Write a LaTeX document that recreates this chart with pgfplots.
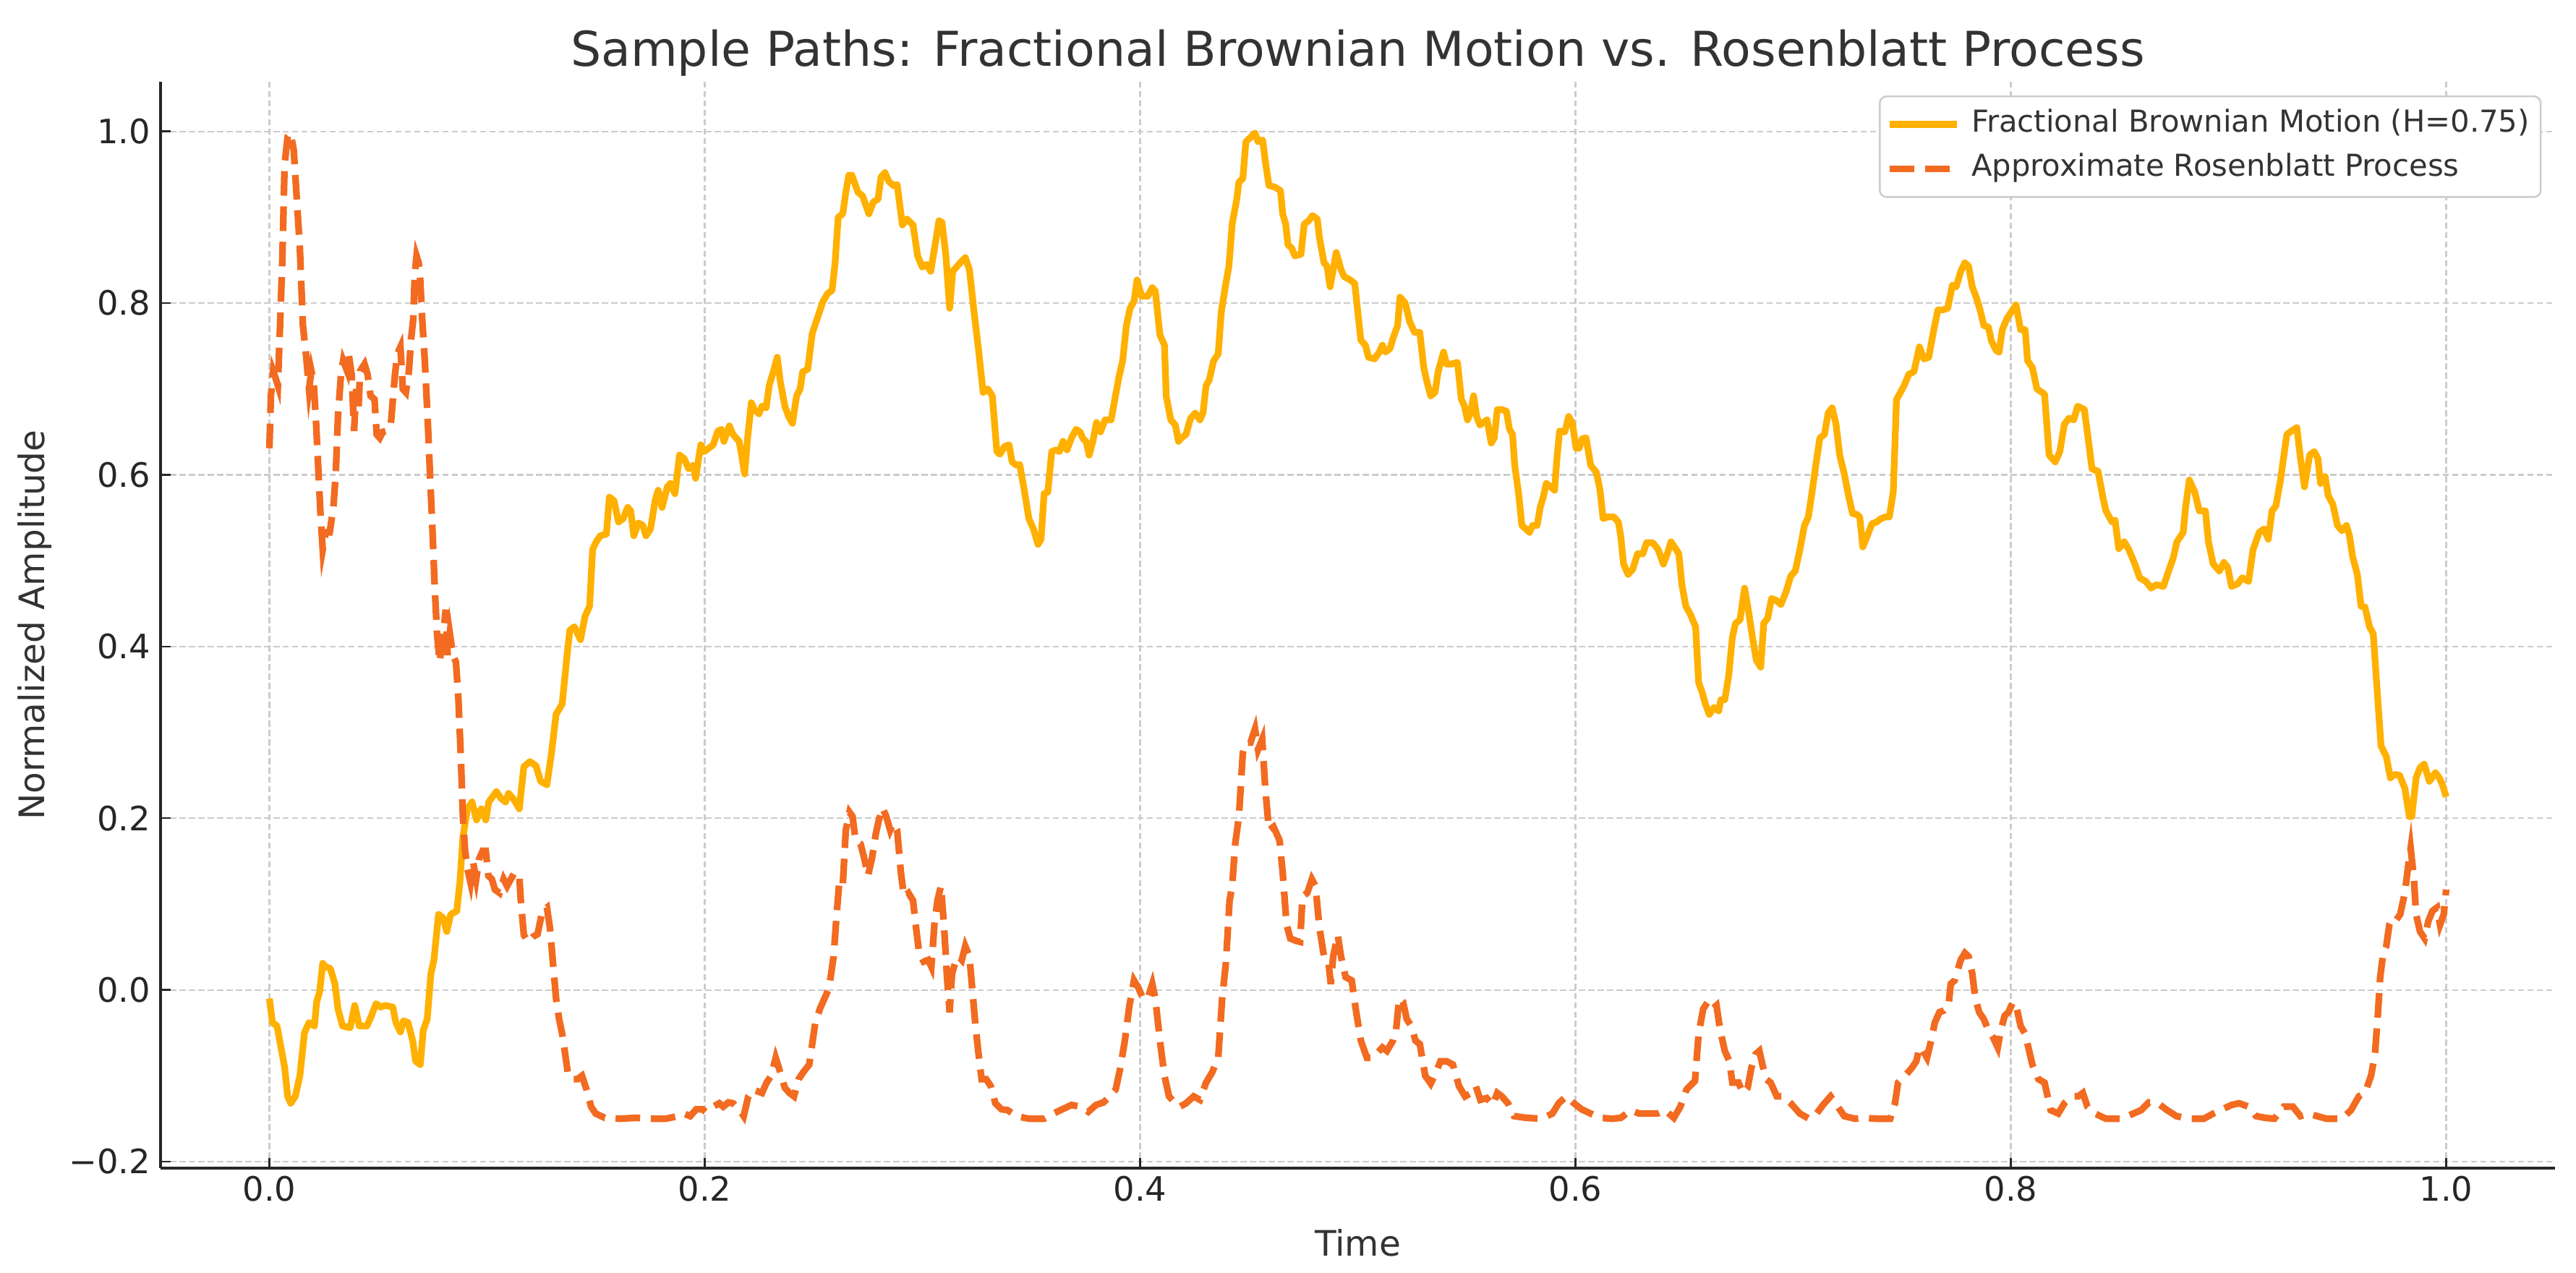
\documentclass[border=0pt]{standalone}
\usepackage{pgfplots}
\pgfplotsset{compat=1.18}
\usepackage{fontspec}
\setmainfont{DejaVu Sans}
\definecolor{fbm}{HTML}{FFB000}
\definecolor{ros}{HTML}{F26B21}
\definecolor{txt}{HTML}{333333}
\definecolor{axc}{HTML}{262626}
\definecolor{gridc}{HTML}{CCCCCC}

\begin{document}
\begin{tikzpicture}
\path[use as bounding box] (-71.8pt,-46.9pt) rectangle (1080.2pt,522.3pt);
\begin{axis}[
  name=ax, at={(0,0)}, anchor=south west,
  scale only axis, width=1070.8pt, height=485.6pt,
  xmin=-0.05, xmax=1.05, ymin=-0.2075, ymax=1.0575,
  axis x line*=bottom, axis y line*=left,
  axis line style={axc, line width=1.3pt, -},
  x axis line style={-}, y axis line style={-},
  tick align=inside, major tick length=4.5pt,
  tick style={axc, line width=0.8pt},
  xtick={0,0.2,0.4,0.6,0.8,1.0},
  xticklabels={0.0,0.2,0.4,0.6,0.8,1.0},
  ytick={-0.2,0,0.2,0.4,0.6,0.8,1.0},
  yticklabels={−0.2,0.0,0.2,0.4,0.6,0.8,1.0},
  ticklabel style={font=\fontsize{15}{17}\selectfont, text=axc},
  yticklabel style={xshift=-1pt},
  grid=major,
  major grid style={gridc, line width=0.7pt, dash pattern=on 2.8pt off 1.4pt},
  legend cell align=left,
  legend image code/.code={\draw[#1] (0pt,0pt) -- (30pt,0pt);},
  legend style={at={(1,1)}, anchor=north east, xshift=-6pt, yshift=-6pt,
    draw=gridc, line width=0.8pt, rounded corners=3pt, fill=white,
    font=\fontsize{13.5}{15}\selectfont, text=txt,
    inner xsep=3pt, inner ysep=5pt, row sep=5pt,
    nodes={inner xsep=2pt, inner ysep=1pt, text height=9.8pt, text depth=3.2pt},
    /tikz/every odd column/.append style={column sep=3pt}},
]
% fractional Brownian motion path
\addplot[fbm, line width=3pt, line join=round] coordinates {
(0,-0.01)(.0014,-.038)(.0035,-.042)(.007,-.09)(.0084,-.124)(.0098,-.132)(.0119,-.124)(.014,-.1)(.0161,-.05)(.0182,-.038)
(.0207,-.042)(.0217,-.014)(.0231,-.002)(.0245,.031)(.0259,.027)(.028,.025)(.0301,.007)(.0315,-.022)(.0336,-.042)(.0371,-.044)
(.0392,-.018)(.0413,-.042)(.0448,-.042)(.0469,-.03)(.049,-.016)(.0511,-.02)(.0532,-.018)(.0567,-.02)(.0581,-.038)(.0602,-.049)
(.0616,-.036)(.0637,-.038)(.0658,-.059)(.0672,-.083)(.0693,-.087)(.0707,-.047)(.0725,-.034)(.0742,.019)(.0756,.035)(.0777,.088)
(.0798,.084)(.0815,.068)(.0833,.088)(.0861,.092)(.0875,.125)(.0889,.178)(.091,.211)(.0931,.219)(.0952,.198)(.0973,.211)
(.0994,.198)(.1008,.219)(.1043,.231)(.1064,.223)(.1085,.219)(.1099,.229)(.112,.223)(.1148,.211)(.1169,.26)(.1197,.266)
(.1225,.261)(.1246,.243)(.1275,.239)(.1296,.276)(.1317,.321)(.1345,.333)(.1366,.386)(.138,.419)(.1401,.423)(.1429,.408)
(.145,.435)(.1471,.447)(.1485,.513)(.1499,.521)(.152,.529)(.1548,.531)(.1562,.574)(.1583,.57)(.1604,.545)(.1625,.549)
(.1646,.562)(.166,.558)(.1674,.529)(.1695,.544)(.1716,.541)(.173,.529)(.1751,.537)(.1772,.57)(.1786,.582)(.1804,.562)
(.1828,.586)(.1842,.59)(.1863,.578)(.1884,.623)(.1905,.619)(.1926,.607)(.1947,.611)(.1958,.596)(.1982,.635)
(.1997,.627)(.2018,.631)(.2039,.635)(.206,.651)(.2077,.653)(.2088,.639)(.2113,.657)(.213,.647)(.2158,.639)(.2172,.619)
(.2183,.601)(.2197,.643)(.2214,.684)(.2228,.676)(.2249,.671)(.2263,.68)(.2282,.678)(.2296,.704)(.2315,.72)(.2333,.737)
(.2347,.709)(.2368,.68)(.2385,.668)(.2403,.66)(.2422,.692)(.2438,.70)(.245,.72)(.2473,.723)(.2494,.765)(.2522,.786)
(.2543,.802)(.2564,.811)(.2585,.815)(.2599,.847)(.2613,.90)(.2634,.904)(.2648,.929)(.2662,.949)(.2676,.949)(.2704,.929)
(.2725,.925)(.2754,.904)(.2775,.918)(.2796,.921)(.281,.947)(.2828,.952)(.2845,.942)(.2866,.937)(.2884,.938)(.2908,.891)
(.2929,.898)(.2957,.891)(.2978,.855)(.2999,.842)(.302,.845)(.3038,.837)(.3055,.863)(.3076,.896)(.309,.894)(.3108,.855)
(.3125,.794)(.3139,.837)(.316,.843)(.3181,.849)(.3197,.853)(.3216,.839)(.3237,.79)(.3258,.745)(.3279,.696)(.33,.70)
(.3321,.692)(.3342,.627)(.3356,.624)(.3377,.633)(.3398,.635)(.3412,.615)(.3433,.611)(.3447,.612)(.3468,.582)(.3489,.549)
(.351,.537)(.3531,.519)(.3545,.525)(.3559,.578)(.3576,.58)(.3594,.627)(.3612,.629)(.3629,.627)(.3646,.639)(.3664,.629)
(.3685,.643)(.3706,.653)(.3724,.65)(.3738,.642)(.3752,.639)(.3766,.623)(.3783,.639)(.38,.661)(.3818,.65)(.3839,.664)
(.3867,.664)(.3881,.684)(.3902,.713)(.392,.733)(.3937,.774)(.3954,.794)(.3972,.802)(.3986,.827)(.4007,.808)(.4035,.808)
(.4056,.818)(.407,.814)(.4091,.763)(.4112,.751)
(.412,.692)(.4141,.664)(.4162,.658)(.4176,.639)(.419,.643)(.4211,.647)(.4232,.666)(.4254,.672)(.4275,.664)(.4289,.672)
(.4303,.704)(.4317,.71)(.4338,.733)(.4359,.741)(.4373,.79)(.4394,.823)(.4408,.843)(.4423,.892)(.4444,.921)(.4454,.941)
(.4472,.945)(.4486,.988)(.4507,.993)(.4528,.998)(.4542,.988)(.4563,.99)(.4577,.962)(.4592,.937)(.462,.935)(.4645,.931)
(.4655,.904)(.4669,.892)(.4679,.868)(.4697,.864)(.4711,.855)(.4739,.857)(.4754,.892)(.4775,.896)(.4792,.902)(.4814,.898)
(.4824,.876)(.4845,.847)(.4859,.843)(.4873,.819)(.4887,.839)(.4901,.859)(.4923,.839)(.4937,.831)(.4965,.827)(.4986,.823)
(.5,.79)(.5014,.757)(.5035,.751)(.5049,.737)(.5077,.735)(.5099,.743)(.5113,.751)(.5127,.743)(.5148,.747)(.5162,.759)
(.5183,.774)(.5194,.807)(.5218,.80)(.5239,.778)(.5261,.766)(.5285,.766)(.5303,.725)(.5317,.709)(.5335,.692)(.5355,.696)
(.5369,.72)(.5394,.743)(.5408,.729)(.543,.729)(.5458,.731)(.5476,.688)(.549,.68)(.5504,.664)(.5518,.672)(.5532,.692)
(.5546,.668)(.5561,.658)(.5577,.661)(.5594,.664)(.5613,.637)(.5627,.643)(.5641,.676)(.5662,.676)(.5683,.674)(.5697,.653)
(.5711,.647)(.5721,.611)(.5739,.578)(.5754,.541)(.5772,.537)(.5789,.533)(.5803,.541)(.5824,.541)(.5838,.562)(.5852,.574)
(.5866,.59)(.5887,.586)(.5904,.582)(.5915,.619)(.5927,.651)(.5951,.65)(.5969,.668)(.5986,.66)(.6003,.631)(.6017,.631)
(.6031,.642)(.6049,.643)(.607,.611)(.6096,.603)(.6113,.582)(.6127,.549)(.6148,.551)(.6176,.551)(.6197,.545)(.6208,.529)
(.6221,.496)(.6242,.484)(.6263,.49)(.6285,.508)(.631,.508)(.6327,.521)(.6355,.521)(.638,.513)(.6404,.496)(.6422,.508)
(.6439,.522)(.646,.514)(.6475,.508)(.6489,.472)(.6507,.447)(.6527,.438)(.6552,.423)(.6566,.358)(.6583,.346)(.6597,.333)
(.6615,.321)(.6636,.329)(.6658,.325)(.6668,.338)(.6686,.338)(.6704,.366)(.6721,.411)(.6735,.427)(.6756,.431)(.6777,.468)
(.6794,.443)(.6813,.411)(.6831,.384)(.6851,.376)(.6865,.427)(.6883,.433)(.6901,.456)(.6921,.454)(.6944,.449)(.6968,.464)
(.6989,.482)(.701,.488)(.7031,.513)(.7052,.541)(.707,.551)(.7087,.58)(.7104,.611)(.7123,.643)(.7144,.647)(.7161,.672)
(.7179,.678)(.7197,.659)(.7214,.623)(.7235,.601)(.7256,.574)(.7273,.555)(.7291,.554)(.7306,.551)(.732,.516)(.7341,.529)
(.7362,.543)(.7383,.545)(.7404,.549)(.7425,.551)(.7442,.551)(.746,.58)(.7475,.688)(.7493,.696)(.751,.704)(.7531,.717)
(.7555,.72)(.758,.749)(.7601,.735)(.7623,.737)(.7644,.766)(.7665,.792)(.7686,.792)(.771,.794)(.7732,.821)(.7749,.819)
(.777,.837)(.7789,.847)(.7806,.843)(.7823,.819)(.7841,.807)(.7859,.792)(.7876,.774)(.7897,.772)(.7911,.756)(.7932,.745)
(.7946,.743)(.7961,.769)(.7982,.782)(.8003,.79)(.8024,.798)(.8045,.769)(.8066,.769)
(.8077,.733)(.8099,.725)(.812,.70)(.8155,.694)(.8176,.623)(.8204,.615)(.8225,.627)(.8246,.659)(.8268,.666)(.8289,.664)
(.8307,.68)(.8338,.676)(.8355,.643)(.8373,.607)(.8401,.604)(.8423,.574)(.8437,.558)(.8465,.545)(.8479,.547)(.8496,.514)
(.8521,.522)(.8542,.513)(.857,.496)(.8592,.48)(.862,.476)(.8645,.468)(.8669,.472)(.8701,.47)(.8725,.488)(.8746,.503)
(.8763,.522)(.8792,.533)(.8803,.562)(.882,.594)(.8845,.58)(.8866,.558)(.8894,.558)(.8908,.522)(.893,.496)(.8958,.488)
(.8979,.498)(.8997,.492)(.9014,.47)(.9042,.473)(.9063,.48)(.9092,.476)(.9113,.513)(.9141,.533)(.9163,.537)(.9183,.525)
(.92,.558)(.9218,.564)(.9239,.594)(.9268,.647)(.9289,.651)(.9314,.655)(.9331,.619)(.9349,.586)(.9373,.623)(.9394,.627)
(.9411,.619)(.9423,.59)(.9444,.598)(.9458,.576)(.9479,.566)(.9501,.541)(.9521,.535)(.9542,.541)(.9556,.529)(.957,.505)
(.9592,.484)(.9609,.447)(.9627,.446)(.9648,.423)(.9665,.415)(.9683,.349)(.9701,.284)(.9725,.272)(.9744,.247)(.9763,.251)
(.9786,.25)(.981,.235)(.9831,.202)(.9842,.202)(.9862,.247)(.988,.259)(.9899,.263)(.9923,.243)(.9951,.253)(.9969,.247)
(.9983,.239)(1.0,.225)
};
\addlegendentry{Fractional Brownian Motion (H=0.75)}
% approximate Rosenblatt path
\addplot[ros, line width=3pt, dash pattern=on 11pt off 4.8pt] coordinates {
(0,.631)(.0007,.692)(.0017,.721)(.0028,.713)(.0039,.704)(.0049,.774)(.0059,.847)(.007,.962)(.0084,.994)(.0098,.998)
(.0112,.978)(.0126,.921)(.014,.864)(.0154,.774)(.0168,.741)(.0182,.70)(.0193,.721)(.0203,.709)(.0213,.668)(.0224,.611)
(.0235,.553)(.0245,.513)(.0259,.533)(.0277,.533)(.0294,.562)(.0305,.602)(.0315,.668)(.0329,.717)(.0339,.733)(.0357,.721)
(.0364,.741)(.0378,.717)(.0389,.651)(.0399,.70)(.0409,.676)(.0417,.721)(.0437,.729)(.0451,.717)(.0465,.692)(.0483,.688)
(.0493,.647)(.0507,.643)(.0521,.65)(.0535,.651)(.0557,.656)(.0577,.717)(.0588,.741)(.0602,.749)(.0613,.70)(.0627,.696)
(.0641,.721)(.0651,.758)(.0661,.782)(.0668,.835)(.0676,.855)(.0686,.847)(.0693,.827)(.07,.79)(.0714,.733)(.0728,.66)
(.0739,.594)(.0749,.537)(.0759,.472)(.077,.415)(.0782,.382)(.0796,.407)(.081,.443)(.0819,.39)(.0829,.415)(.0843,.39)
(.0857,.382)(.0868,.341)(.088,.268)(.0889,.202)(.0899,.162)(.091,.141)(.0924,.125)(.0936,.149)(.095,.129)(.0964,.153)
(.098,.162)(.0994,.162)(.1006,.133)(.1022,.129)(.1036,.117)(.1057,.113)(.1076,.129)(.1092,.121)(.1109,.129)(.1127,.137)
(.1148,.133)(.1155,.104)(.1169,.064)(.1188,.056)(.1211,.062)(.1232,.065)(.1254,.092)(.1275,.096)(.1289,.072)(.1303,.031)
(.1317,-.01)(.1331,-.034)(.1345,-.051)(.1359,-.075)(.1373,-.1)(.1394,-.104)(.1415,-.104)(.1436,-.1)(.1457,-.116)(.1478,-.136)
(.1499,-.144)(.1541,-.149)(.1611,-.15)(.1681,-.149)(.1751,-.15)(.1821,-.15)(.1877,-.147)(.1905,-.144)(.1933,-.147)(.1961,-.139)
(.1989,-.139)
(.2004,-.142)(.2039,-.136)(.2067,-.132)(.2085,-.136)(.2109,-.131)(.213,-.132)(.2158,-.139)(.2179,-.147)(.22,-.124)(.2221,-.116)
(.2242,-.118)(.2263,-.12)(.2284,-.108)(.2305,-.1)(.2326,-.079)(.2347,-.096)(.2368,-.114)(.2389,-.12)(.241,-.124)(.2431,-.104)
(.2452,-.096)(.248,-.087)(.2508,-.038)(.2529,-.022)(.255,-.01)(.2571,.002)(.2592,.039)(.2606,.088)(.2618,.125)(.2634,.121)
(.2648,.186)(.2665,.207)(.2679,.202)(.2693,.174)(.2716,.17)(.2733,.153)(.275,.133)(.2768,.153)(.2786,.182)(.28,.198)
(.2817,.212)(.2834,.202)(.2852,.186)(.2866,.194)(.2884,.186)(.2901,.137)(.2915,.109)(.2936,.113)(.2957,.104)(.2971,.072)
(.2985,.043)(.3006,.033)(.3027,.035)(.3041,.027)(.3055,.076)(.3069,.104)(.3085,.121)(.3099,.076)(.3113,.015)(.3125,-.026)
(.3136,.019)(.315,.031)(.3167,.039)(.3181,.035)(.3197,.051)(.3216,.039)(.323,-.002)(.3244,-.042)(.3258,-.075)(.3272,-.104)
(.3293,-.104)(.3314,-.112)(.3335,-.132)(.3363,-.139)(.3391,-.14)(.3433,-.147)(.3489,-.15)(.3559,-.15)(.3601,-.144)(.3643,-.139)
(.3685,-.134)(.3727,-.136)(.3762,-.142)(.3797,-.134)(.3832,-.131)(.386,-.124)(.3888,-.116)(.3909,-.091)(.393,-.059)(.3951,-.018)
(.3972,.011)(.3993,.002)(.4013,-.01)(.4035,-.01)(.4056,.007)(.407,-.01)(.4091,-.059)(.4112,-.1)(.4133,-.124)
(.4162,-.132)(.4183,-.136)(.4211,-.132)(.4246,-.124)(.4275,-.128)(.4303,-.108)(.4331,-.096)(.4359,-.079)(.4377,-.01)(.4394,.031)
(.4411,.104)(.4423,.121)(.4437,.17)(.4454,.202)(.4472,.276)(.4486,.288)(.4507,.288)(.4528,.304)(.4542,.28)(.4561,.292)
(.4575,.235)(.4592,.186)(.4613,.19)(.4641,.174)(.4655,.137)(.4673,.076)(.469,.06)(.4718,.057)(.4735,.056)(.4746,.109)
(.4768,.113)(.4789,.129)(.4806,.121)(.4824,.072)(.4845,.039)(.4866,.031)(.4876,.007)(.4887,.039)(.4908,.064)(.4923,.039)
(.4944,.015)(.4972,.011)(.4993,-.026)(.5014,-.059)(.5042,-.079)(.507,-.079)(.5113,-.067)(.5134,-.071)(.5162,-.059)(.5176,-.047)
(.519,-.01)(.5208,-.014)(.5225,-.034)(.5246,-.042)(.5265,-.059)(.5285,-.063)(.531,-.1)(.5335,-.109)(.5352,-.1)(.538,-.083)
(.5408,-.083)(.5437,-.087)(.5465,-.112)(.5493,-.124)(.5521,-.12)(.5542,-.112)(.5563,-.128)(.5592,-.126)(.562,-.134)(.5641,-.12)
(.5662,-.124)(.569,-.132)(.5718,-.147)(.5775,-.149)(.5845,-.15)(.5894,-.144)(.5923,-.132)(.5958,-.124)(.5993,-.132)(.6028,-.139)
(.607,-.144)(.6113,-.149)(.6169,-.15)(.6208,-.149)
(.6256,-.14)(.6292,-.144)(.6327,-.144)(.6376,-.144)(.6411,-.14)(.6452,-.149)(.6482,-.136)(.651,-.116)(.6549,-.106)(.6566,-.051)
(.6587,-.022)(.6608,-.014)(.663,-.022)(.6648,-.018)(.6665,-.047)(.6686,-.071)(.6707,-.083)(.6721,-.108)(.6749,-.108)(.677,-.12)
(.6791,-.114)(.6808,-.091)(.6827,-.075)(.6845,-.071)(.6859,-.087)(.6876,-.104)(.6897,-.108)(.6925,-.124)(.6953,-.124)(.6989,-.132)
(.7031,-.144)(.7073,-.15)(.7108,-.144)(.7137,-.134)(.7172,-.124)(.72,-.134)(.7235,-.147)(.7284,-.15)(.7327,-.149)(.7383,-.15)
(.7446,-.15)(.7468,-.132)(.7482,-.108)(.751,-.101)(.7545,-.091)(.7566,-.083)(.758,-.067)(.7597,-.071)(.7615,-.079)(.7634,-.059)
(.7651,-.038)(.7672,-.026)(.7693,-.024)(.7714,-.018)(.7724,.007)(.7742,.011)(.7756,.023)(.777,.035)(.7789,.043)(.7806,.039)
(.7823,.019)(.7837,-.01)(.7855,-.026)(.7876,-.034)(.7897,-.047)(.7918,-.055)(.794,-.067)(.7954,-.047)(.7972,-.03)(.7989,-.026)
(.801,-.014)(.8028,-.022)(.8045,-.042)(.8066,-.051)
(.8099,-.087)(.8127,-.104)(.8155,-.108)(.8183,-.14)(.8218,-.144)(.8246,-.132)(.8282,-.124)(.831,-.124)(.8331,-.12)(.8352,-.136)
(.8387,-.144)(.8437,-.15)(.8507,-.15)(.8563,-.144)(.8599,-.14)(.8634,-.131)(.8676,-.132)(.8718,-.14)(.8761,-.147)(.8817,-.15)
(.8887,-.15)(.893,-.144)(.8972,-.139)(.9014,-.134)(.9049,-.132)(.9092,-.136)(.9127,-.147)(.9169,-.149)(.9211,-.15)(.9254,-.136)
(.9296,-.136)(.9331,-.147)(.9366,-.144)(.9408,-.147)(.945,-.15)(.9521,-.15)(.9563,-.14)(.9599,-.124)(.9627,-.12)(.9655,-.1)
(.9673,-.075)(.9687,-.026)(.9697,.015)(.9711,.043)(.9725,.051)(.9739,.076)(.9754,.084)(.9772,.082)(.9789,.088)(.981,.113)
(.9824,.141)(.9837,.165)(.9852,.129)(.9862,.088)(.988,.068)(.9901,.06)(.9918,.08)(.9937,.092)(.9958,.096)(.9972,.076)
(.9989,.088)(1.0,.117)
};
\addlegendentry{Approximate Rosenblatt Process}
\end{axis}
\node[anchor=base, font=\fontsize{21.5}{24}\selectfont, text=txt] at ([yshift=7.2pt]ax.north) {Sample Paths: Fractional Brownian Motion vs. Rosenblatt Process};
\node[anchor=base, font=\fontsize{15.7}{18}\selectfont, text=txt] at ([yshift=-39.4pt]ax.south) {Time};
\node[anchor=base, rotate=90, font=\fontsize{15.7}{18}\selectfont, text=txt] at ([xshift=-52pt]ax.west) {Normalized Amplitude};
\end{tikzpicture}
\end{document}
